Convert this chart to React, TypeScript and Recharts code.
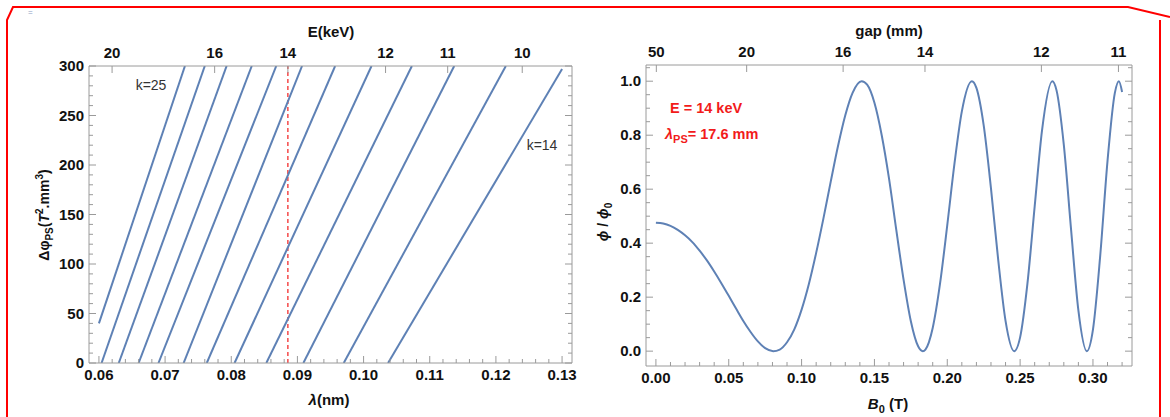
import { Line, LineChart, ReferenceLine, XAxis, YAxis } from "recharts";

// left panel: phase shifter phase vs wavelength, one straight line per harmonic k
const kValues = [25, 24, 23, 22, 21, 20, 19, 18, 17, 16, 15, 14];
const lambdaStart = [0.06, 0.0604, 0.063, 0.066, 0.069, 0.0728, 0.0763, 0.0805, 0.0853, 0.0909, 0.097, 0.1037];
const phiStart = [40, 0, 0, 0, 0, 0, 0, 0, 0, 0, 0, 0];
const lambdaEnd = [0.073, 0.076, 0.0793, 0.0831, 0.0868, 0.0907, 0.0957, 0.1012, 0.1073, 0.1137, 0.1215, 0.13];
const phiEnd = [300, 300, 300, 300, 300, 300, 300, 300, 300, 300, 300, 297];

const lambdaTicks = [0.06, 0.07, 0.08, 0.09, 0.1, 0.11, 0.12, 0.13];
const phiTicks = [0, 50, 100, 150, 200, 250, 300];
const energyLabels = ["20", "16", "14", "12", "11", "10"];
const energyLambda = [0.06199, 0.07749, 0.08856, 0.10332, 0.11271, 0.12398];
const markedLambda = 0.08856;

// right panel: normalised flux vs peak field
const bField = [
  0, 0.005, 0.01, 0.015, 0.02, 0.025, 0.03, 0.035, 0.04, 0.045, 0.05, 0.055, 0.06, 0.065, 0.07, 0.075,
  0.0805, 0.085, 0.09, 0.095, 0.1, 0.105, 0.11, 0.115, 0.12, 0.125, 0.13, 0.135, 0.1412, 0.145, 0.15,
  0.155, 0.16, 0.165, 0.17, 0.175, 0.18, 0.1832, 0.185, 0.19, 0.195, 0.2, 0.205, 0.21, 0.2169, 0.22,
  0.225, 0.23, 0.235, 0.24, 0.2459, 0.25, 0.255, 0.26, 0.265, 0.2721, 0.275, 0.28, 0.285, 0.29, 0.2958,
  0.3, 0.305, 0.31, 0.315, 0.3178, 0.32,
];
const fluxRatio = [
  0.476, 0.473, 0.464, 0.449, 0.429, 0.404, 0.372, 0.336, 0.295, 0.251, 0.205, 0.158, 0.112, 0.071, 0.036, 0.011,
  0, 0.006, 0.033, 0.081, 0.154, 0.249, 0.364, 0.492, 0.628, 0.76, 0.874, 0.957, 1, 0.987, 0.92,
  0.8, 0.64, 0.449, 0.265, 0.111, 0.018, 0, 0.006, 0.086, 0.249, 0.467, 0.697, 0.888, 1, 0.975,
  0.836, 0.603, 0.336, 0.112, 0, 0.051, 0.249, 0.536, 0.816, 1, 0.966, 0.764, 0.449, 0.151, 0,
  0.08, 0.355, 0.705, 0.956, 1, 0.96,
];
const bTicks = [0, 0.05, 0.1, 0.15, 0.2, 0.25, 0.3];
const ratioTicks = [0, 0.2, 0.4, 0.6, 0.8, 1];
const gapLabels = ["50", "20", "16", "14", "12", "11"];
const gapB = [0.0003, 0.0623, 0.1285, 0.1847, 0.2646, 0.3175];

const BLUE = "#5e81b5";
const FRAME = "#9a9a9a";
const RED = "#f21b1b";
const FONT = "'Liberation Sans', Arial, Helvetica, sans-serif";

const steps = (lo: number, hi: number, step: number) =>
  Array.from({ length: Math.round((hi - lo) / step) + 1 }, (_, i) => +(lo + i * step).toFixed(6));

type Side = "left" | "right" | "top" | "bottom";
function tickFor(side: Side, majors: number[], fmt?: (v: number, i: number) => string) {
  return (p: any) => {
    const { x, y } = p;
    const v = p.payload.value;
    const idx = majors.findIndex((m) => Math.abs(m - v) < 1e-7);
    const len = idx >= 0 ? 7 : 4;
    const dx = side === "left" ? len : side === "right" ? -len : 0;
    const dy = side === "top" ? len : side === "bottom" ? -len : 0;
    const label = idx >= 0 && fmt ? fmt(v, idx) : "";
    let tx = x, ty = y, anchor: any = "middle";
    if (side === "left") { tx = x - 5; ty = y + 5; anchor = "end"; }
    if (side === "bottom") ty = y + 17;
    if (side === "top") ty = y - 8;
    return (
      <g>
        <line x1={x} y1={y} x2={x + dx} y2={y + dy} stroke={FRAME} strokeWidth={1} />
        {label && (
          <text x={tx} y={ty} textAnchor={anchor} fontFamily={FONT} fontWeight={700} fontSize={15} fill="#111">
            {label}
          </text>
        )}
      </g>
    );
  };
}

// axes get a 1px band (a zero-size axis is not drawn at all); margins are reduced to match
const axisCommon = {
  type: "number" as const,
  allowDataOverflow: true,
  interval: 0 as const,
  tickLine: false,
  tickSize: 0,
  tickMargin: 0,
  axisLine: { stroke: FRAME },
};

function PhaseChart() {
  const lamDomain: [number, number] = [0.0585, 0.1315];
  return (
    <LineChart width={600} height={417} margin={{ top: 65, right: 27, bottom: 53, left: 88 }}>
      <XAxis {...axisCommon} xAxisId="b" dataKey="x" orientation="bottom" height={1} domain={lamDomain}
        ticks={steps(0.06, 0.13, 0.002)} tick={tickFor("bottom", lambdaTicks, (v) => v.toFixed(2))} />
      <XAxis {...axisCommon} xAxisId="t" dataKey="x" orientation="top" height={1} domain={lamDomain}
        ticks={energyLambda} tick={tickFor("top", energyLambda, (_, i) => energyLabels[i])} />
      <YAxis {...axisCommon} yAxisId="l" orientation="left" width={1} domain={[0, 300]}
        ticks={steps(0, 300, 10)} tick={tickFor("left", phiTicks, (v) => String(v))} />
      <YAxis {...axisCommon} yAxisId="r" orientation="right" width={1} domain={[0, 300]}
        ticks={steps(0, 300, 10)} tick={tickFor("right", phiTicks)} />
      <ReferenceLine xAxisId="b" yAxisId="l" x={markedLambda} stroke={RED} strokeWidth={1.2} strokeDasharray="4 3" />
      {kValues.map((k, i) => (
        <Line key={k} xAxisId="b" yAxisId="l" type="linear" dataKey="y"
          data={[{ x: lambdaStart[i], y: phiStart[i] }, { x: lambdaEnd[i], y: phiEnd[i] }]}
          stroke={BLUE} strokeWidth={2} dot={false} isAnimationActive={false} />
      ))}
    </LineChart>
  );
}

function FluxChart() {
  const bDomain: [number, number] = [-0.0068, 0.3268];
  const rDomain: [number, number] = [-0.055, 1.06];
  const pts = bField.map((b, i) => ({ x: b, y: fluxRatio[i] }));
  return (
    <LineChart width={570} height={417} margin={{ top: 64, right: 37, bottom: 50, left: 45 }}>
      <XAxis {...axisCommon} xAxisId="b" dataKey="x" orientation="bottom" height={1} domain={bDomain}
        ticks={steps(0, 0.32, 0.01)} tick={tickFor("bottom", bTicks, (v) => v.toFixed(2))} />
      <XAxis {...axisCommon} xAxisId="t" dataKey="x" orientation="top" height={1} domain={bDomain}
        ticks={gapB} tick={tickFor("top", gapB, (_, i) => gapLabels[i])} />
      <YAxis {...axisCommon} yAxisId="l" orientation="left" width={1} domain={rDomain}
        ticks={steps(0, 1.05, 0.05)} tick={tickFor("left", ratioTicks, (v) => v.toFixed(1))} />
      <YAxis {...axisCommon} yAxisId="r" orientation="right" width={1} domain={rDomain}
        ticks={steps(0, 1.05, 0.05)} tick={tickFor("right", ratioTicks)} />
      <Line xAxisId="b" yAxisId="l" type="monotone" dataKey="y" data={pts}
        stroke={BLUE} strokeWidth={2} dot={false} isAnimationActive={false} />
    </LineChart>
  );
}

function Overlay() {
  const bold = { fontFamily: FONT, fontWeight: 700, fontSize: 15, fill: "#111" } as const;
  return (
    <svg width={1170} height={417} style={{ position: "absolute", left: 0, top: 0, pointerEvents: "none" }}>
      {/* red screenshot frame */}
      <polyline points="7,417 7,20 13,7 1128,7 1170,17" fill="none" stroke="#ff0000" strokeWidth={2} />
      <line x1={1160} y1={20} x2={1160} y2={417} stroke="#ff0000" strokeWidth={2} />
      <text x={28} y={15} fontSize={8} fill="#8a9cc2" fontFamily={FONT}>=</text>

      <text x={331} y={37} textAnchor="middle" {...bold}>E(keV)</text>
      <text x={329} y={405} textAnchor="middle" {...bold}>
        <tspan fontStyle="italic">λ</tspan>(nm)
      </text>
      <text transform="rotate(-90 44 215)" x={44} y={220} textAnchor="middle" {...bold} fontSize={14}>
        Δφ<tspan dy={4} fontSize={10}>PS</tspan>
        <tspan dy={-4}>(</tspan><tspan fontStyle="italic">T</tspan>
        <tspan dy={-6} fontSize={10}>2</tspan><tspan dy={6}>.mm</tspan>
        <tspan dy={-6} fontSize={10}>3</tspan><tspan dy={6}>)</tspan>
      </text>
      <text x={151} y={90} textAnchor="middle" fontFamily={FONT} fontSize={14} fill="#333">k=25</text>
      <text x={542} y={150} textAnchor="middle" fontFamily={FONT} fontSize={14} fill="#333">k=14</text>

      <text x={889} y={36} textAnchor="middle" {...bold}>gap (mm)</text>
      <text x={888} y={409} textAnchor="middle" {...bold}>
        <tspan fontStyle="italic">B</tspan><tspan dy={4} fontSize={11}>0</tspan><tspan dy={-4}> (T)</tspan>
      </text>
      <text transform="rotate(-90 603 222)" x={603} y={227} textAnchor="middle" {...bold} fontSize={14}>
        <tspan fontStyle="italic">ϕ</tspan> / <tspan fontStyle="italic">ϕ</tspan><tspan dy={4} fontSize={10}>0</tspan>
      </text>
      <text x={670} y={113} {...bold} fontSize={14.5} fill={RED}>E = 14 keV</text>
      <text x={665} y={139} {...bold} fontSize={14.5} fill={RED}>
        <tspan fontStyle="italic">λ</tspan><tspan dy={4} fontSize={11}>PS</tspan><tspan dy={-4}>= 17.6 mm</tspan>
      </text>
    </svg>
  );
}

export default function App() {
  return (
    <div style={{ position: "absolute", left: 0, top: 0, width: 1170, height: 417, background: "#fff", overflow: "hidden" }}>
      <div style={{ position: "absolute", left: 0, top: 0 }}><PhaseChart /></div>
      <div style={{ position: "absolute", left: 600, top: 0 }}><FluxChart /></div>
      <Overlay />
    </div>
  );
}
